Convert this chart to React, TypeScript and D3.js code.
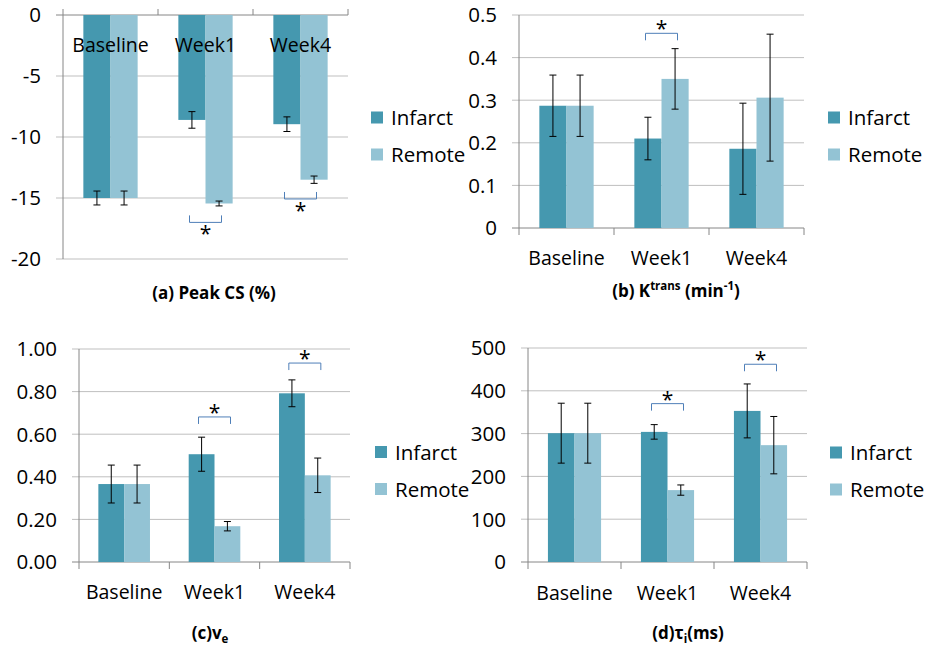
import * as d3 from "d3";

const categories = ["Baseline", "Week1", "Week4"];
const seriesNames = ["Infarct", "Remote"];
const colors = ["#4598AF", "#93C3D4"];

// (a) Peak CS (%)
const peakCsInfarct = [-15.0, -8.6, -8.95];
const peakCsInfarctErr = [0.57, 0.68, 0.6];
const peakCsRemote = [-15.0, -15.45, -13.5];
const peakCsRemoteErr = [0.57, 0.2, 0.3];
const peakCsTicks = [0, -5, -10, -15, -20];

// (b) Ktrans (min-1)
const ktransInfarct = [0.287, 0.21, 0.186];
const ktransInfarctErr = [0.072, 0.05, 0.107];
const ktransRemote = [0.287, 0.35, 0.306];
const ktransRemoteErr = [0.072, 0.071, 0.149];
const ktransTicks = [0, 0.1, 0.2, 0.3, 0.4, 0.5];

// (c) ve
const veInfarct = [0.366, 0.506, 0.792];
const veInfarctErr = [0.089, 0.08, 0.063];
const veRemote = [0.366, 0.168, 0.407];
const veRemoteErr = [0.089, 0.022, 0.081];
const veTicks = [0, 0.2, 0.4, 0.6, 0.8, 1.0];

// (d) tau_i (ms)
const tauInfarct = [301, 304, 353];
const tauInfarctErr = [70, 17, 63];
const tauRemote = [301, 168, 273];
const tauRemoteErr = [70, 12, 67];
const tauTicks = [0, 100, 200, 300, 400, 500];

// significance brackets: category index + bracket level (data units)
const peakCsBrackets = [
  { cat: 1, level: -17.0 },
  { cat: 2, level: -15.08 },
];
const ktransBrackets = [{ cat: 1, level: 0.457 }];
const veBrackets = [
  { cat: 1, level: 0.681 },
  { cat: 2, level: 0.934 },
];
const tauBrackets = [
  { cat: 1, level: 370 },
  { cat: 2, level: 462 },
];

const FONT = "'Open Sans', Lato, sans-serif";
const GRID = "#BFBFBF";
const AXIS = "#868686";

type Title = { parts: { t: string; kind?: "sup" | "sub" }[] };

interface PanelProps {
  left: number;
  right: number;
  top: number;
  bottom: number;
  domain: [number, number];
  ticks: number[];
  fmt: (v: number) => string;
  values: number[][];
  errors: number[][];
  brackets: { cat: number; level: number }[];
  inverted?: boolean;
  labelY: number;
  legendX: number;
  legendY: number;
  titleX: number;
  titleY: number;
  title: Title;
}

function Panel(p: PanelProps) {
  const y = d3.scaleLinear().domain(p.domain).range([p.bottom, p.top]);
  const x = d3
    .scaleBand<string>()
    .domain(categories)
    .range([p.left, p.right])
    .paddingInner(3 / 7)
    .paddingOuter(1.5 / 7);
  const xs = d3.scaleBand<string>().domain(seriesNames).range([0, x.bandwidth()]);
  const step = x.step();
  const base = p.inverted ? 0 : p.domain[0];
  const axisY = y(base);
  const cap = 3.5;
  const dir = p.inverted ? 1 : -1; // direction away from bars

  return (
    <g>
      {/* gridlines + left ticks */}
      {p.ticks.map((t) => (
        <g key={t}>
          <line
            x1={p.left - 7}
            x2={p.right}
            y1={y(t)}
            y2={y(t)}
            stroke={t === base ? AXIS : GRID}
            strokeWidth={1}
          />
          <text
            x={p.left - 22}
            y={y(t)}
            dy="0.36em"
            textAnchor="end"
            fontSize={20.5}
            fontFamily={FONT}
            fill="#000"
          >
            {p.fmt(t)}
          </text>
        </g>
      ))}
      {/* left axis */}
      <line x1={p.left} x2={p.left} y1={p.top} y2={p.bottom} stroke={AXIS} />
      {/* category ticks */}
      {[0, 1, 2, 3].map((i) => (
        <line
          key={i}
          x1={p.left + i * step}
          x2={p.left + i * step}
          y1={axisY}
          y2={axisY + (p.inverted ? -6 : 7)}
          stroke={AXIS}
        />
      ))}
      {/* bars */}
      {categories.map((c, ci) =>
        seriesNames.map((s, si) => {
          const v = p.values[si][ci];
          const bx = (x(c) as number) + (xs(s) as number);
          const y0 = y(0);
          const y1 = y(v);
          return (
            <rect
              key={c + s}
              x={bx}
              width={xs.bandwidth()}
              y={Math.min(y0, y1)}
              height={Math.abs(y1 - y0)}
              fill={colors[si]}
            />
          );
        })
      )}
      {/* category labels */}
      {categories.map((c) => (
        <text
          key={c}
          x={(x(c) as number) + x.bandwidth() / 2}
          y={p.labelY}
          textAnchor="middle"
          fontSize={19.5}
          fontFamily={FONT}
          fill="#000"
        >
          {c}
        </text>
      ))}
      {/* error bars */}
      {categories.map((c, ci) =>
        seriesNames.map((s, si) => {
          const v = p.values[si][ci];
          const e = p.errors[si][ci];
          const cx = (x(c) as number) + (xs(s) as number) + xs.bandwidth() / 2;
          return (
            <g key={"e" + c + s} stroke="#000" strokeWidth={1}>
              <line x1={cx} x2={cx} y1={y(v + e)} y2={y(v - e)} />
              <line x1={cx - cap} x2={cx + cap} y1={y(v + e)} y2={y(v + e)} />
              <line x1={cx - cap} x2={cx + cap} y1={y(v - e)} y2={y(v - e)} />
            </g>
          );
        })
      )}
      {/* significance brackets */}
      {p.brackets.map((b, i) => {
        const cx = (x(categories[b.cat]) as number) + x.bandwidth() / 2;
        const by = y(b.level);
        const x0 = cx - 16;
        const x1 = cx + 16;
        const legY = by - dir * 7;
        const starY = by + dir * 8;
        return (
          <g key={"b" + i}>
            <path
              d={`M${x0},${legY}L${x0},${by}L${x1},${by}L${x1},${legY}`}
              fill="none"
              stroke="#4F7FB8"
              strokeWidth={1}
            />
            <text
              x={cx}
              y={starY + 11}
              textAnchor="middle"
              fontSize={21}
              fontFamily={FONT}
              fill="#000"
            >
              *
            </text>
          </g>
        );
      })}
      {/* legend */}
      {seriesNames.map((s, si) => {
        const ly = p.legendY + si * 37;
        return (
          <g key={"l" + s}>
            <rect x={p.legendX} y={ly - 6} width={12} height={12} fill={colors[si]} />
            <text
              x={p.legendX + 20}
              y={ly + 7.5}
              fontSize={20.5}
              fontFamily={FONT}
              fill="#000"
            >
              {s}
            </text>
          </g>
        );
      })}
      {/* title */}
      <text
        x={p.titleX}
        y={p.titleY}
        textAnchor="middle"
        fontSize={17}
        fontWeight="bold"
        fontFamily={FONT}
        fill="#000"
      >
        {p.title.parts.map((part, i) => (
          <tspan
            key={i}
            fontSize={part.kind ? 11.5 : 17}
            baselineShift={part.kind === "sup" ? "7" : part.kind === "sub" ? "-4" : undefined}
          >
            {part.t}
          </tspan>
        ))}
      </text>
    </g>
  );
}

export default function App() {
  return (
    <svg
      width={937}
      height={657}
      style={{ position: "absolute", left: 0, top: 0, background: "#fff" }}
    >
      <rect width={937} height={657} fill="#fff" />
      <Panel
        left={63}
        right={348}
        top={15}
        bottom={259}
        domain={[-20, 0]}
        ticks={peakCsTicks}
        fmt={(v) => String(v)}
        values={[peakCsInfarct, peakCsRemote]}
        errors={[peakCsInfarctErr, peakCsRemoteErr]}
        brackets={peakCsBrackets}
        inverted
        labelY={52}
        legendX={371}
        legendY={117.5}
        titleX={214}
        titleY={299}
        title={{ parts: [{ t: "(a) Peak CS (%)" }] }}
      />
      <Panel
        left={519}
        right={804}
        top={15}
        bottom={228}
        domain={[0, 0.5]}
        ticks={ktransTicks}
        fmt={(v) => String(v)}
        values={[ktransInfarct, ktransRemote]}
        errors={[ktransInfarctErr, ktransRemoteErr]}
        brackets={ktransBrackets}
        labelY={265}
        legendX={828}
        legendY={117.5}
        titleX={676}
        titleY={297}
        title={{
          parts: [
            { t: "(b) K" },
            { t: "trans", kind: "sup" },
            { t: " (min" },
            { t: "-1", kind: "sup" },
            { t: ")" },
          ],
        }}
      />
      <Panel
        left={79}
        right={350}
        top={349}
        bottom={562}
        domain={[0, 1]}
        ticks={veTicks}
        fmt={(v) => v.toFixed(2)}
        values={[veInfarct, veRemote]}
        errors={[veInfarctErr, veRemoteErr]}
        brackets={veBrackets}
        labelY={599}
        legendX={375}
        legendY={452}
        titleX={210}
        titleY={639}
        title={{ parts: [{ t: "(c)v" }, { t: "e", kind: "sub" }] }}
      />
      <Panel
        left={528}
        right={807}
        top={348}
        bottom={562}
        domain={[0, 500]}
        ticks={tauTicks}
        fmt={(v) => String(v)}
        values={[tauInfarct, tauRemote]}
        errors={[tauInfarctErr, tauRemoteErr]}
        brackets={tauBrackets}
        labelY={600}
        legendX={830}
        legendY={452.5}
        titleX={688}
        titleY={639}
        title={{ parts: [{ t: "(d)τ" }, { t: "i", kind: "sub" }, { t: "(ms)" }] }}
      />
    </svg>
  );
}
